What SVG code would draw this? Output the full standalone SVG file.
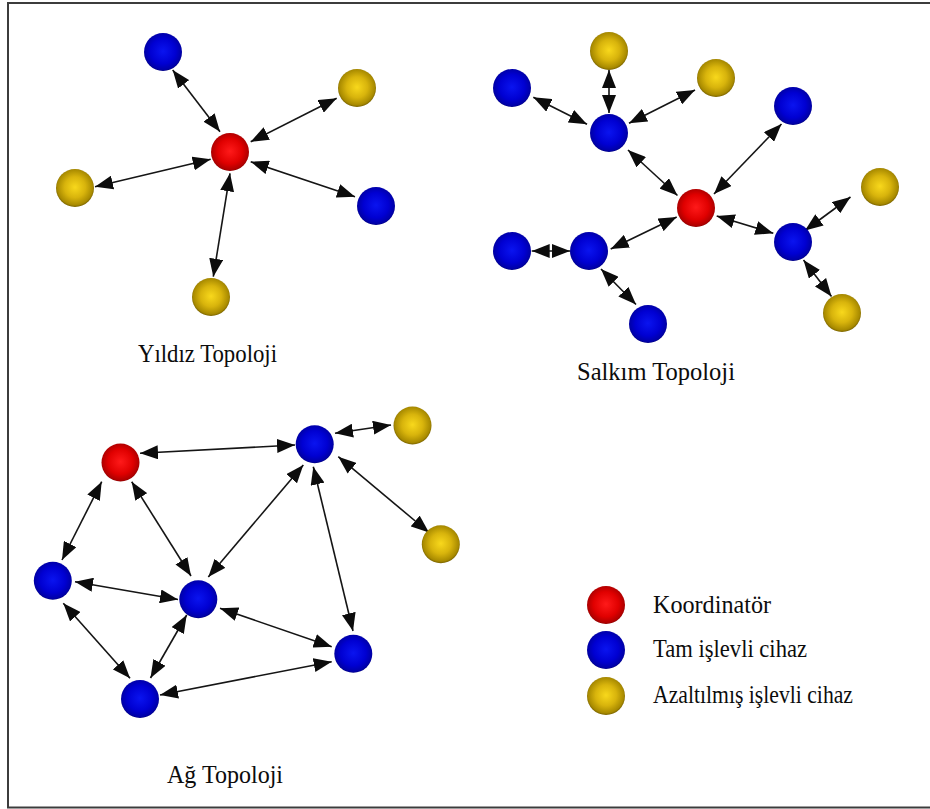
<svg xmlns="http://www.w3.org/2000/svg" width="930" height="809" viewBox="0 0 930 809">
  <style>
    .edge { stroke: #151515; stroke-width: 1.6; fill: none; marker-start: url(#head); marker-end: url(#head); }
    .coord { fill: url(#gRed); }
    .full { fill: url(#gBlue); }
    .reduced { fill: url(#gGold); }
    .label { font-family: "Liberation Serif", "Times New Roman", serif; font-size: 26px; fill: #0c0c0c; }
  </style>
  <defs>
    <marker id="head" markerUnits="userSpaceOnUse" viewBox="0 0 18 14" refX="18" refY="7" markerWidth="18" markerHeight="14" orient="auto-start-reverse">
      <path d="M0,0 L18,7 L0,14 Z" fill="#0c0c0c"/>
    </marker>
    <radialGradient id="gRed" cx="50%" cy="48%" r="55%">
      <stop offset="0" stop-color="#ff1a1a"/>
      <stop offset="0.6" stop-color="#e00000"/>
      <stop offset="0.88" stop-color="#b00000"/>
      <stop offset="1" stop-color="#700000"/>
    </radialGradient>
    <radialGradient id="gBlue" cx="50%" cy="48%" r="55%">
      <stop offset="0" stop-color="#0a14f0"/>
      <stop offset="0.6" stop-color="#0000d2"/>
      <stop offset="0.88" stop-color="#0000a8"/>
      <stop offset="1" stop-color="#000060"/>
    </radialGradient>
    <radialGradient id="gGold" cx="50%" cy="48%" r="55%">
      <stop offset="0" stop-color="#f8d81c"/>
      <stop offset="0.5" stop-color="#d8b40c"/>
      <stop offset="0.85" stop-color="#a88a00"/>
      <stop offset="1" stop-color="#5e4c00"/>
    </radialGradient>
  </defs>

  <rect width="930" height="809" fill="#ffffff"/>
  <!-- outer frame (right edge runs off the canvas) -->
  <rect x="8" y="3" width="930" height="804.5" fill="none" stroke="#3c3c3c" stroke-width="2"/>

  <g id="connectors">
    <!-- star -->
    <line class="edge" x1="220" y1="131.7" x2="172.7" y2="70"/>
    <line class="edge" x1="250.7" y1="141.7" x2="336.7" y2="98.3"/>
    <line class="edge" x1="210.7" y1="159.3" x2="95" y2="186.7"/>
    <line class="edge" x1="250.7" y1="161.7" x2="355" y2="196.7"/>
    <line class="edge" x1="230" y1="173.3" x2="213.3" y2="276.7"/>
    <!-- cluster tree -->
    <line class="edge" x1="609" y1="113" x2="609" y2="70"/>
    <line class="edge" x1="587" y1="124.3" x2="533.3" y2="97.3"/>
    <line class="edge" x1="629" y1="123.3" x2="695" y2="90"/>
    <line class="edge" x1="628" y1="150" x2="677.5" y2="195.5"/>
    <line class="edge" x1="714" y1="194" x2="781.5" y2="124"/>
    <line class="edge" x1="716.7" y1="216" x2="773.3" y2="233.3"/>
    <line class="edge" x1="676.7" y1="217" x2="610.7" y2="249"/>
    <line class="edge" x1="570" y1="251" x2="531.7" y2="251"/>
    <line class="edge" x1="601" y1="269" x2="636" y2="304.5"/>
    <line class="edge" x1="805" y1="230.5" x2="850.5" y2="197"/>
    <line class="edge" x1="803.5" y1="260" x2="831.5" y2="296.5"/>
    <!-- mesh -->
    <line class="edge" x1="140" y1="453.3" x2="295" y2="445"/>
    <line class="edge" x1="335" y1="433.3" x2="391" y2="425"/>
    <line class="edge" x1="338.3" y1="456.7" x2="429" y2="532.5"/>
    <line class="edge" x1="101.7" y1="481.7" x2="62" y2="560"/>
    <line class="edge" x1="131.7" y1="481.7" x2="191" y2="576"/>
    <line class="edge" x1="303.3" y1="465" x2="208.3" y2="577"/>
    <line class="edge" x1="313.3" y1="466.7" x2="353" y2="631"/>
    <line class="edge" x1="75" y1="581.7" x2="178" y2="599.5"/>
    <line class="edge" x1="63.3" y1="603.3" x2="130" y2="678.3"/>
    <line class="edge" x1="186.7" y1="615" x2="150.5" y2="678"/>
    <line class="edge" x1="220" y1="608.3" x2="331.7" y2="646.7"/>
    <line class="edge" x1="160" y1="695" x2="331.7" y2="661.7"/>
  </g>

  <!-- Yıldız (star) topology -->
  <g id="star-coordinator"><circle class="coord" cx="230" cy="152" r="19"/></g>
  <g id="star-ffd-top"><circle class="full" cx="163" cy="52" r="19"/></g>
  <g id="star-ffd-right"><circle class="full" cx="376" cy="206" r="19"/></g>
  <g id="star-rfd-topright"><circle class="reduced" cx="357" cy="88" r="19"/></g>
  <g id="star-rfd-left"><circle class="reduced" cx="75" cy="188" r="19"/></g>
  <g id="star-rfd-bottom"><circle class="reduced" cx="211" cy="297" r="19"/></g>
  <g id="star-label"><text class="label" x="138" y="362" textLength="139" lengthAdjust="spacingAndGlyphs">Yıldız Topoloji</text></g>

  <!-- Salkım (cluster tree) topology -->
  <g id="cluster-coordinator"><circle class="coord" cx="696" cy="208" r="19"/></g>
  <g id="cluster-hub-top"><circle class="full" cx="609" cy="133" r="19"/></g>
  <g id="cluster-hub-left"><circle class="full" cx="589" cy="251" r="19"/></g>
  <g id="cluster-hub-right"><circle class="full" cx="793" cy="242" r="19"/></g>
  <g id="cluster-ffd-topleft"><circle class="full" cx="512" cy="88" r="19"/></g>
  <g id="cluster-ffd-topright"><circle class="full" cx="793" cy="106" r="19"/></g>
  <g id="cluster-ffd-left"><circle class="full" cx="512" cy="251" r="19"/></g>
  <g id="cluster-ffd-bottom"><circle class="full" cx="648" cy="324" r="19"/></g>
  <g id="cluster-rfd-top"><circle class="reduced" cx="609" cy="51" r="19"/></g>
  <g id="cluster-rfd-upper"><circle class="reduced" cx="716" cy="78" r="19"/></g>
  <g id="cluster-rfd-right"><circle class="reduced" cx="880" cy="187" r="19"/></g>
  <g id="cluster-rfd-bottom"><circle class="reduced" cx="842" cy="313" r="19"/></g>
  <g id="cluster-label"><text class="label" x="577" y="380" textLength="158" lengthAdjust="spacingAndGlyphs">Salkım Topoloji</text></g>

  <!-- Ağ (mesh) topology -->
  <g id="mesh-coordinator"><circle class="coord" cx="120.5" cy="462.5" r="19"/></g>
  <g id="mesh-ffd-top"><circle class="full" cx="314.7" cy="444.2" r="19"/></g>
  <g id="mesh-ffd-left"><circle class="full" cx="52.8" cy="580.8" r="19"/></g>
  <g id="mesh-ffd-middle"><circle class="full" cx="198.3" cy="599.2" r="19"/></g>
  <g id="mesh-ffd-right"><circle class="full" cx="353.3" cy="653.8" r="19"/></g>
  <g id="mesh-ffd-bottom"><circle class="full" cx="140" cy="699" r="19"/></g>
  <g id="mesh-rfd-top"><circle class="reduced" cx="412.5" cy="425.5" r="19"/></g>
  <g id="mesh-rfd-right"><circle class="reduced" cx="440.8" cy="544.2" r="19"/></g>
  <g id="mesh-label"><text class="label" x="167" y="783" textLength="116" lengthAdjust="spacingAndGlyphs">Ağ Topoloji</text></g>

  <!-- legend -->
  <g id="legend-coordinator">
    <circle class="coord" cx="606" cy="605" r="19"/>
    <text class="label" x="653" y="613" textLength="118" lengthAdjust="spacingAndGlyphs">Koordinatör</text>
  </g>
  <g id="legend-full">
    <circle class="full" cx="606" cy="650" r="19"/>
    <text class="label" x="653" y="657" textLength="154" lengthAdjust="spacingAndGlyphs">Tam işlevli cihaz</text>
  </g>
  <g id="legend-reduced">
    <circle class="reduced" cx="606" cy="696" r="19"/>
    <text class="label" x="653" y="703" textLength="200" lengthAdjust="spacingAndGlyphs">Azaltılmış işlevli cihaz</text>
  </g>
</svg>
